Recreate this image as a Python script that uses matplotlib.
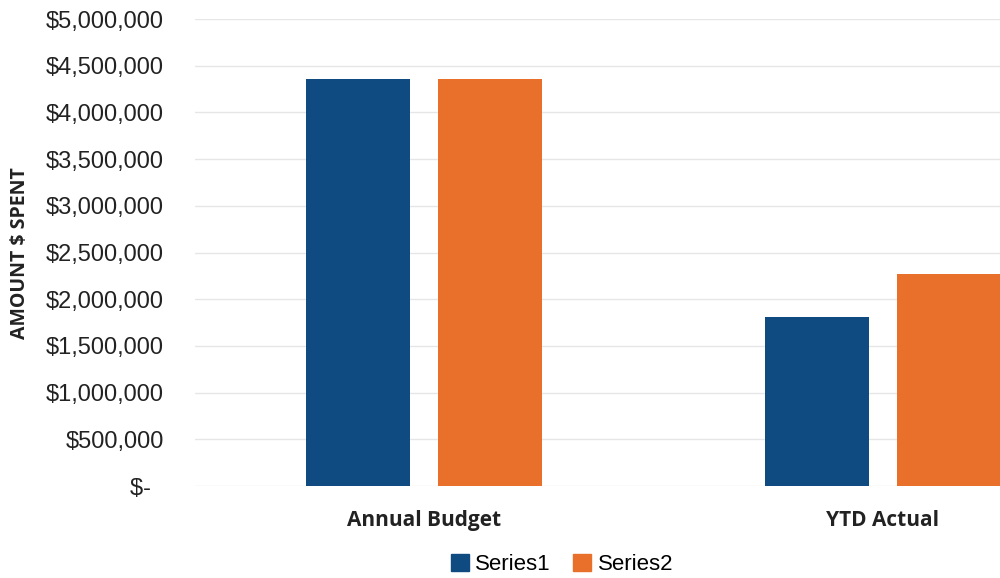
import numpy as np
import matplotlib.pyplot as plt
from matplotlib.patches import Patch

categories = ['Annual Budget', 'YTD Actual']
series1 = [4360000, 1810000]
series2 = [4360000, 2270000]
yticks = np.arange(0, 5000001, 500000)
ytick_labels = ['$-  '] + [f'${v:,.0f}' for v in yticks[1:]]

blue = '#0f4a80'
orange = '#e8702a'

fig = plt.figure(figsize=(10, 5.78), dpi=100)
# plot area runs past the right edge, as in the cropped screenshot
ax = fig.add_axes([0.1945, 0.159, 0.918, 0.808])

x = np.arange(len(categories))
w = 0.2266
off = 0.1438
ax.bar(x - off, series1, w, color=blue, zorder=3)
ax.bar(x + off, series2, w, color=orange, zorder=3)

ax.set_xlim(-0.5, 1.5)
ax.set_ylim(0, 5000000)
ax.set_yticks(yticks)
ax.set_yticklabels(ytick_labels, fontsize=17, family='Liberation Sans', color='#222222')
ax.set_xticks(x)
ax.set_xticklabels(categories, fontsize=15, fontweight='bold', family='Open Sans', color='#222222')
ax.tick_params(axis='y', length=0, pad=22)
ax.tick_params(axis='x', length=0, pad=17)
ax.grid(axis='y', color='#e6e6e6', linewidth=1, zorder=0)
for s in ax.spines.values():
    s.set_visible(False)

fig.text(0.02, 0.562, 'AMOUNT $ SPENT', rotation=90, ha='center', va='center',
         fontsize=14, fontweight='bold', family='Open Sans', color='#222222')

handles = [Patch(color=blue, label='Series1'), Patch(color=orange, label='Series2')]
fig.legend(handles=handles, loc='center', bbox_to_anchor=(0.562, 0.024), ncol=2,
           frameon=False, handlelength=0.8, handleheight=0.8,
           handletextpad=0.3, columnspacing=1.0, prop={'family': 'Liberation Sans', 'size': 16})

plt.savefig('out.png', dpi=100)
